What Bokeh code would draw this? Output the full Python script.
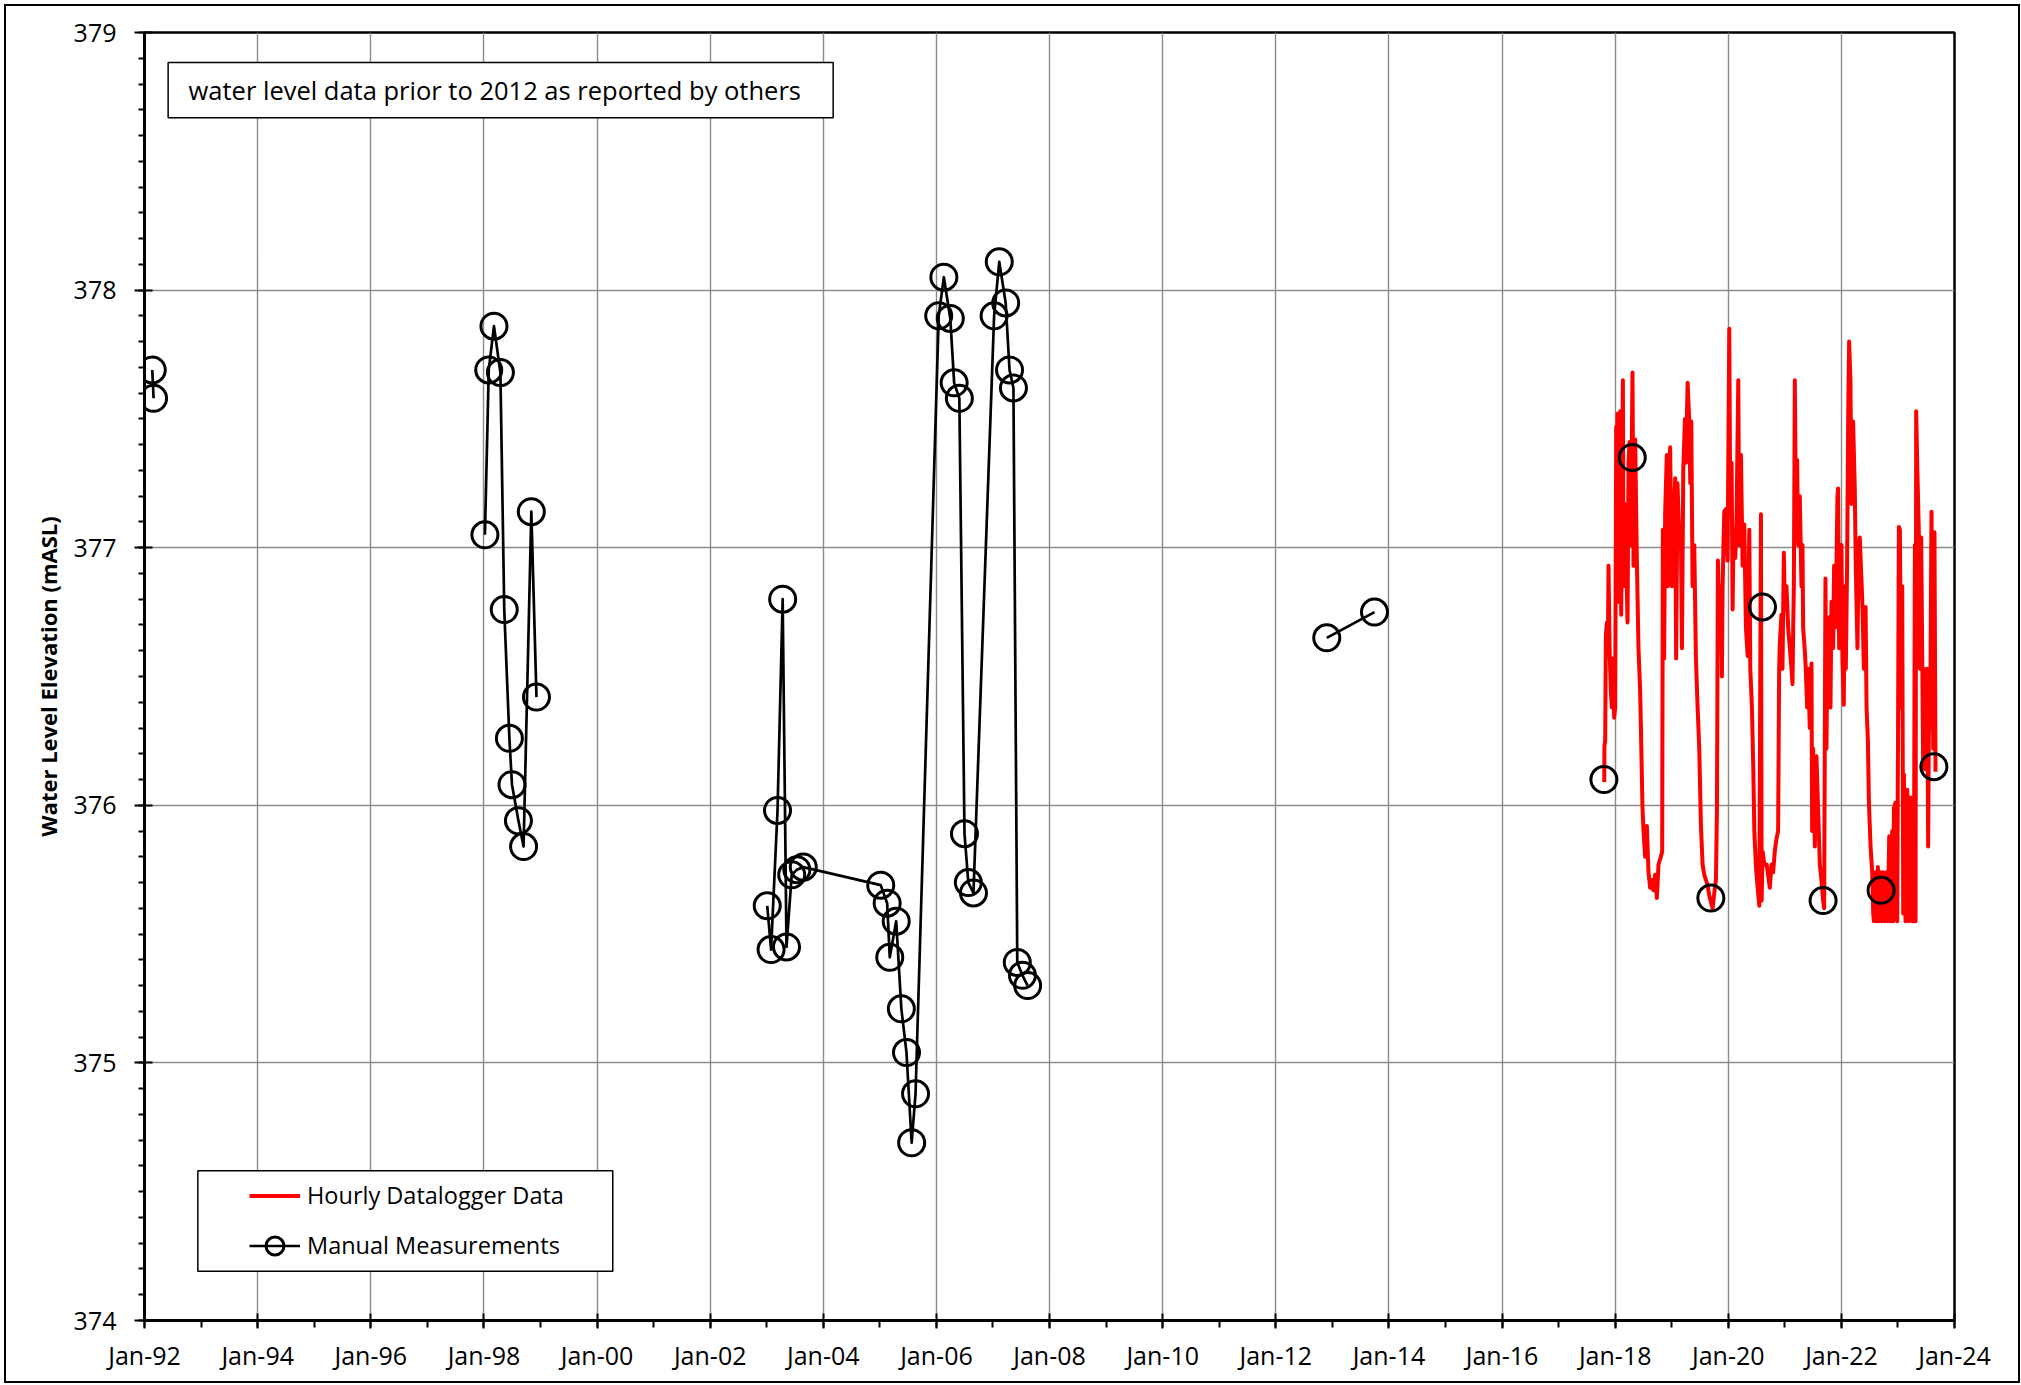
import numpy as np
import pandas as pd
from bokeh.plotting import figure
from bokeh.models import (Range1d, FixedTicker, DatetimeTickFormatter, Legend,
                          LegendItem, BoxAnnotation, Label)
from bokeh.embed import file_html
from bokeh.resources import INLINE

# ---------------- data (decimal year, water level mASL) ----------------
logger_year = [
    2017.806, 2017.810, 2017.823, 2017.835, 2017.853, 2017.870, 2017.882, 2017.900,
    2017.923, 2017.941, 2017.959, 2017.982, 2018.000, 2018.018, 2018.029, 2018.041,
    2018.065, 2018.088, 2018.106, 2018.136, 2018.147, 2018.165, 2018.194, 2018.218,
    2018.236, 2018.253, 2018.277, 2018.306, 2018.324, 2018.354, 2018.383, 2018.412,
    2018.442, 2018.483, 2018.501, 2018.530, 2018.560, 2018.589, 2018.619, 2018.648,
    2018.678, 2018.707, 2018.737, 2018.766, 2018.807, 2018.831, 2018.843, 2018.866,
    2018.884, 2018.913, 2018.931, 2018.955, 2018.972, 2019.002, 2019.031, 2019.061,
    2019.078, 2019.102, 2019.137, 2019.163, 2019.181, 2019.204, 2019.234, 2019.252,
    2019.281, 2019.311, 2019.328, 2019.346, 2019.369, 2019.399, 2019.428, 2019.458,
    2019.487, 2019.517, 2019.546, 2019.576, 2019.635, 2019.664, 2019.723, 2019.753,
    2019.782, 2019.800, 2019.817, 2019.841, 2019.870, 2019.888, 2019.900, 2019.929,
    2019.959, 2019.988, 2020.018, 2020.035, 2020.059, 2020.077, 2020.094, 2020.124,
    2020.147, 2020.177, 2020.194, 2020.224, 2020.253, 2020.283, 2020.312, 2020.342,
    2020.371, 2020.389, 2020.418, 2020.442, 2020.460, 2020.489, 2020.519, 2020.548,
    2020.577, 2020.589, 2020.607, 2020.636, 2020.678, 2020.733, 2020.763, 2020.792,
    2020.821, 2020.851, 2020.880, 2020.898, 2020.910, 2020.939, 2020.957, 2020.981,
    2020.998, 2021.028, 2021.057, 2021.087, 2021.116, 2021.134, 2021.146, 2021.158,
    2021.175, 2021.193, 2021.216, 2021.234, 2021.263, 2021.293, 2021.311, 2021.322,
    2021.352, 2021.369, 2021.393, 2021.411, 2021.440, 2021.470, 2021.481, 2021.499,
    2021.529, 2021.558, 2021.588, 2021.617, 2021.646, 2021.676, 2021.694, 2021.717,
    2021.735, 2021.753, 2021.782, 2021.806, 2021.823, 2021.853, 2021.870, 2021.888,
    2021.912, 2021.929, 2021.941, 2021.959, 2021.982, 2022.000, 2022.018, 2022.041,
    2022.059, 2022.077, 2022.100, 2022.118, 2022.136, 2022.159, 2022.177, 2022.206,
    2022.236, 2022.253, 2022.283, 2022.306, 2022.324, 2022.368, 2022.397, 2022.427,
    2022.444, 2022.468, 2022.486, 2022.515, 2022.544, 2022.562, 2022.574, 2022.603,
    2022.621, 2022.645, 2022.662, 2022.692, 2022.709, 2022.739, 2022.762, 2022.798,
    2022.821, 2022.845, 2022.869, 2022.898, 2022.916, 2022.928, 2022.957, 2022.975,
    2022.987, 2023.016, 2023.034, 2023.057, 2023.075, 2023.093, 2023.105, 2023.134,
    2023.164, 2023.193, 2023.222, 2023.258, 2023.281, 2023.299, 2023.311, 2023.322,
    2023.340, 2023.369, 2023.387, 2023.411, 2023.428, 2023.446, 2023.458, 2023.476,
    2023.487, 2023.505, 2023.517, 2023.534, 2023.546, 2023.576, 2023.593, 2023.605,
    2023.623, 2023.646, 2023.664,
]
logger_level = [
    376.09, 376.23, 376.25, 376.66, 376.71, 376.60, 376.93, 376.61,
    376.44, 376.38, 376.57, 376.34, 376.38, 377.47, 377.01, 377.52,
    376.79, 377.53, 376.74, 377.65, 376.85, 377.17, 376.98, 376.71,
    377.33, 377.41, 377.01, 377.68, 376.93, 377.42, 376.95, 376.61,
    376.44, 375.99, 375.90, 375.80, 375.92, 375.74, 375.68, 375.71,
    375.67, 375.73, 375.64, 375.77, 375.80, 375.82, 377.07, 376.57,
    377.14, 377.36, 376.85, 377.28, 377.39, 376.85, 377.07, 377.27,
    376.57, 377.25, 377.01, 377.03, 376.61, 377.30, 377.50, 377.33,
    377.64, 377.49, 377.25, 377.49, 376.85, 377.01, 376.57, 376.38,
    376.22, 375.92, 375.77, 375.73, 375.69, 375.65, 375.60, 375.66,
    375.71, 375.98, 376.95, 376.69, 376.85, 376.50, 376.85, 377.14,
    377.15, 376.95, 377.85, 377.14, 377.33, 376.76, 377.07, 376.96,
    377.12, 377.65, 377.01, 377.36, 376.93, 377.09, 376.69, 376.58,
    377.07, 376.53, 376.38, 376.14, 375.90, 375.76, 375.68, 375.61,
    377.13, 375.63, 375.82, 375.77, 375.77, 375.68, 375.77, 375.74,
    375.82, 375.87, 375.90, 376.53, 376.63, 376.74, 376.53, 376.98,
    376.76, 376.85, 376.69, 376.61, 376.53, 376.47, 376.69, 376.85,
    377.65, 377.17, 377.34, 377.01, 377.20, 376.85, 377.01, 376.69,
    376.60, 376.53, 376.38, 376.53, 376.30, 376.55, 375.90, 376.22,
    375.84, 376.19, 375.98, 375.77, 375.71, 375.63, 375.60, 376.88,
    376.22, 376.69, 376.73, 376.38, 376.79, 376.61, 376.93, 376.69,
    376.93, 377.20, 377.23, 376.61, 376.88, 377.01, 376.57, 376.39,
    376.85, 376.53, 376.93, 377.49, 377.80, 377.65, 377.17, 377.49,
    377.23, 376.93, 376.61, 377.01, 377.04, 376.80, 376.53, 376.77,
    376.38, 376.25, 376.01, 375.84, 375.74, 375.58, 375.55, 375.74,
    375.55, 375.76, 375.55, 375.74, 375.55, 375.74, 375.55, 375.74,
    375.55, 375.88, 375.55, 375.90, 375.55, 375.99, 376.01, 375.77,
    375.55, 377.08, 377.07, 376.38, 376.85, 375.58, 376.12, 375.55,
    376.06, 375.55, 376.03, 375.55, 375.55, 377.01, 375.55, 377.53,
    377.33, 377.06, 376.53, 377.04, 376.61, 376.14, 376.53, 376.47,
    376.14, 376.25, 376.53, 375.84, 376.27, 376.53, 377.14, 376.85,
    376.22, 377.06, 376.13,
]

manual_1992_year = [1992.137, 1992.160]
manual_1992_level = [377.69, 377.58]

manual_1998_year = [1998.017, 1998.085, 1998.177, 1998.291, 1998.359, 1998.450,
                    1998.496, 1998.610, 1998.701, 1998.838, 1998.929]
manual_1998_level = [377.05, 377.69, 377.86, 377.68, 376.76, 376.26,
                     376.08, 375.94, 375.84, 377.14, 376.42]

manual_2003_year = [2003.009, 2003.077, 2003.191, 2003.282, 2003.350, 2003.442,
                    2003.533, 2003.647, 2005.014, 2005.128, 2005.174, 2005.288,
                    2005.379, 2005.470, 2005.561, 2005.630, 2006.040, 2006.131,
                    2006.245, 2006.313, 2006.405, 2006.496, 2006.564, 2006.655,
                    2007.020, 2007.111, 2007.225, 2007.293, 2007.362, 2007.430,
                    2007.521, 2007.613]
manual_2003_level = [375.61, 375.44, 375.98, 376.80, 375.45, 375.73,
                     375.75, 375.76, 375.69, 375.62, 375.41, 375.55,
                     375.21, 375.04, 374.69, 374.88, 377.90, 378.05,
                     377.89, 377.64, 377.58, 375.89, 375.70, 375.66,
                     377.90, 378.11, 377.95, 377.69, 377.62, 375.39,
                     375.34, 375.30]

manual_2012_year = [2012.900, 2013.744]
manual_2012_level = [376.65, 376.75]

manual_recent_year = [2017.800, 2018.302, 2019.692, 2020.604, 2021.675, 2022.701, 2023.635]
manual_recent_level = [376.10, 377.35, 375.64, 376.77, 375.63, 375.67, 376.15]

x_tick_years = list(range(1992, 2025, 2))
x_minor_tick_years = list(range(1992, 2025))
y_ticks = [374, 375, 376, 377, 378, 379]


# ---------------- helpers ----------------
def to_ms(yr_dec):
    """decimal year -> milliseconds since epoch (for Bokeh datetime axis)"""
    y = int(np.floor(yr_dec))
    start = pd.Timestamp(year=y, month=1, day=1)
    end = pd.Timestamp(year=y + 1, month=1, day=1)
    return (start + (end - start) * (yr_dec - y)).value / 1e6


FONT = "Open Sans"

p = figure(width=2012, height=1375, x_axis_type="datetime",
           output_backend="svg", toolbar_location=None,
           x_range=Range1d(to_ms(1992), to_ms(2024)),
           y_range=Range1d(374, 379),
           min_border_left=138, min_border_right=64,
           min_border_top=26, min_border_bottom=61,
           background_fill_color="white", border_fill_color="white")
p.margin = (6, 0, 0, 6)
p.styles = {"outline": "2px solid black", "outline-offset": "0px"}

# hourly logger
r_red = p.line([to_ms(v) for v in logger_year], logger_level,
               line_color="#ff0000", line_width=4, line_join="round")

# manual measurements
groups_x = [[to_ms(v) for v in g] for g in
            (manual_1992_year, manual_1998_year, manual_2003_year, manual_2012_year)]
groups_y = [manual_1992_level, manual_1998_level, manual_2003_level, manual_2012_level]
r_ml = p.multi_line(groups_x, groups_y, line_color="black", line_width=2.7,
                    line_join="round")

all_x = [to_ms(v) for v in (manual_1992_year + manual_1998_year + manual_2003_year
                            + manual_2012_year + manual_recent_year)]
all_y = (manual_1992_level + manual_1998_level + manual_2003_level
         + manual_2012_level + manual_recent_level)
r_sc = p.scatter(all_x, all_y, marker="circle", size=26, fill_alpha=0,
                 line_color="black", line_width=3)

# ---------------- axes ----------------
xa = p.xaxis[0]
ya = p.yaxis[0]
xa.ticker = FixedTicker(ticks=[to_ms(y) for y in x_tick_years],
                        minor_ticks=[to_ms(y) for y in x_minor_tick_years])
fmt = "%b-%y"
xa.formatter = DatetimeTickFormatter(microseconds=fmt, milliseconds=fmt, seconds=fmt,
                                     minsec=fmt, minutes=fmt, hourmin=fmt, hours=fmt,
                                     days=fmt, months=fmt, years=fmt)
ya.ticker = FixedTicker(ticks=y_ticks,
                        minor_ticks=[round(374 + 0.1 * i, 1) for i in range(51)])

for ax in (xa, ya):
    ax.axis_line_color = "black"
    ax.axis_line_width = 3
    ax.major_tick_line_color = "black"
    ax.major_tick_line_width = 2
    ax.minor_tick_line_color = "black"
    ax.minor_tick_line_width = 2
    ax.major_label_text_font = FONT
    ax.major_label_text_font_size = "25px"
    ax.major_label_text_color = "black"

xa.major_tick_out = 8
xa.major_tick_in = 7
xa.minor_tick_out = 7
xa.minor_tick_in = 0
xa.major_label_standoff = 9

ya.major_tick_out = 10
ya.major_tick_in = 8
ya.minor_tick_out = 6
ya.minor_tick_in = 0
ya.major_label_standoff = 18
ya.axis_label = "Water Level Elevation (mASL)"
ya.axis_label_text_font = FONT
ya.axis_label_text_font_style = "bold"
ya.axis_label_text_font_size = "22px"
ya.axis_label_text_color = "black"
ya.axis_label_standoff = 8

p.xgrid.grid_line_color = "#8c8c8c"
p.xgrid.grid_line_width = 1.4
p.ygrid.grid_line_color = "#8c8c8c"
p.ygrid.grid_line_width = 1.4
p.outline_line_color = "black"
p.outline_line_width = 2.5
p.outline_line_alpha = 1

# ---------------- note box ----------------
note_box = BoxAnnotation(left=to_ms(1992.417), right=to_ms(2004.175),
                         top=378.884, bottom=378.669,
                         fill_color="white", fill_alpha=1,
                         line_color="black", line_width=1.5, line_alpha=1)
p.add_layout(note_box)
note = Label(x=to_ms(1992.778), y=378.776,
             text="water level data prior to 2012 as reported by others",
             text_font=FONT, text_font_size="25.5px", text_color="black",
             text_align="left", text_baseline="middle")
p.add_layout(note)

# ---------------- legend ----------------
legend_box = BoxAnnotation(left=to_ms(1992.941), right=to_ms(2000.278),
                           top=374.581, bottom=374.191,
                           fill_color="white", fill_alpha=1,
                           line_color="black", line_width=1.5, line_alpha=1)
p.add_layout(legend_box)
legend = Legend(items=[LegendItem(label="Hourly Datalogger Data", renderers=[r_red]),
                       LegendItem(label="Manual Measurements", renderers=[r_ml, r_sc])],
                location=(100, 47.5), padding=5, spacing=5, margin=0,
                glyph_width=51, glyph_height=45, label_standoff=7,
                label_text_font=FONT, label_text_font_size="23.5px",
                label_text_color="black",
                background_fill_alpha=0, border_line_alpha=0)
p.add_layout(legend)

open("out.html", "w").write(file_html(p, INLINE, title="Water Level Elevation"))
